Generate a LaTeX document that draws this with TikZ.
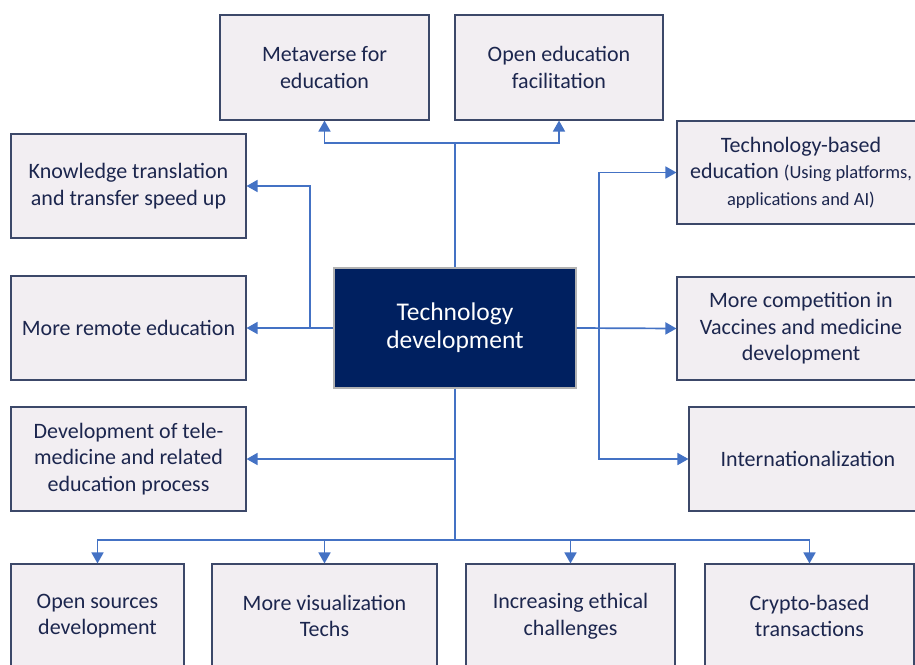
\documentclass[tikz,border=0pt]{standalone}
\usepackage{fontspec}
\setmainfont{Carlito}
\usetikzlibrary{arrows.meta}
\definecolor{boxfill}{RGB}{242,238,242}
\definecolor{boxline}{RGB}{60,72,105}
\definecolor{boxtext}{RGB}{28,38,78}
\definecolor{hubfill}{RGB}{0,32,96}
\definecolor{linkblue}{RGB}{68,114,196}
\begin{document}
\begin{tikzpicture}[
		x=1pt, y=-1pt,
		outcome/.style={
				draw=boxline,
				line width=1.1pt,
				fill=boxfill,
				text=boxtext,
				shape=rectangle,
				inner sep=0pt,
				align=center,
				font=\fontsize{22}{26.5}\selectfont
			},
		hub/.style={
				draw=black!30,
				line width=1.2pt,
				fill=hubfill,
				text=white,
				shape=rectangle,
				inner sep=0pt,
				align=center,
				minimum width=242pt,
				minimum height=120pt,
				font=\fontsize{25.5}{28}\selectfont
			},
		link/.style={
				draw=linkblue,
				line width=1.7pt
			},
		arrow/.style={
				link,
				-{Triangle[length=11pt,width=12pt]}
			},
	]
	\useasboundingbox (0,0) rectangle (915,664);
	\clip (0,0) rectangle (915,664);
	\node [hub] (tech) at (455,328) {Technology\\development};
	\node [outcome, minimum width=209pt, minimum height=105pt] (meta) at (324.5,67.5) {Metaverse for\\education};
	\node [outcome, minimum width=208pt, minimum height=105pt] (open) at (559,67.5) {Open education\\facilitation};
	\node [outcome, minimum width=235pt, minimum height=104pt] (know) at (128.5,186) {Knowledge translation\\and transfer speed up};
	\node [outcome, minimum width=235pt, minimum height=104pt] (remote) at (128.5,328) {More remote education};
	\node [outcome, minimum width=235pt, minimum height=104pt] (tele) at (128.5,459) {Development of tele-\\medicine and related\\education process};
	\node [outcome, minimum width=248pt, minimum height=103pt] (techedu) at (801,172.5) {Technology-based\\education {\fontsize{18.5}{27}\selectfont(Using platforms,}\\{\fontsize{18.5}{27}\selectfont applications and AI)}};
	\node [outcome, minimum width=248pt, minimum height=103pt] (vacc) at (801,328.5) {More competition in\\Vaccines and medicine\\development};
	\node [outcome, minimum width=238pt, minimum height=104pt] (intl) at (808,459) {Internationalization};
	\node [outcome, minimum width=173pt, minimum height=104pt] (opens) at (97.5,616) {Open sources\\development};
	\node [outcome, minimum width=225pt, minimum height=104pt] (vis) at (324.5,616) {More visualization\\Techs};
	\node [outcome, minimum width=209pt, minimum height=104pt] (ethic) at (570.5,616) {Increasing ethical\\challenges};
	\node [outcome, minimum width=209pt, minimum height=104pt] (crypto) at (809.5,616) {Crypto-based\\transactions};
	\coordinate (topj) at (455,143);
	\coordinate (leftj) at (310,328);
	\coordinate (rightj) at (599,328);
	\coordinate (telej) at (455,459);
	\coordinate (botj) at (455,540);
	\draw [link] (tech.north) -- (topj);
	\draw [arrow] (topj) -| (meta.south);
	\draw [arrow] (topj) -| (open.south);
	\draw [arrow] (tech.west) -- (remote.east);
	\draw [arrow] (leftj) |- (know.east);
	\draw [arrow] (tech.east) -- (vacc.west);
	\draw [arrow] (rightj) |- (techedu.west);
	\draw [arrow] (rightj) |- (intl.west);
	\draw [link] (tech.south) -- (botj);
	\draw [arrow] (telej) -- (tele.east);
	\draw [arrow] (botj) -| (opens.north);
	\draw [arrow] (botj) -| (vis.north);
	\draw [arrow] (botj) -| (ethic.north);
	\draw [arrow] (botj) -| (crypto.north);
\end{tikzpicture}
\end{document}
